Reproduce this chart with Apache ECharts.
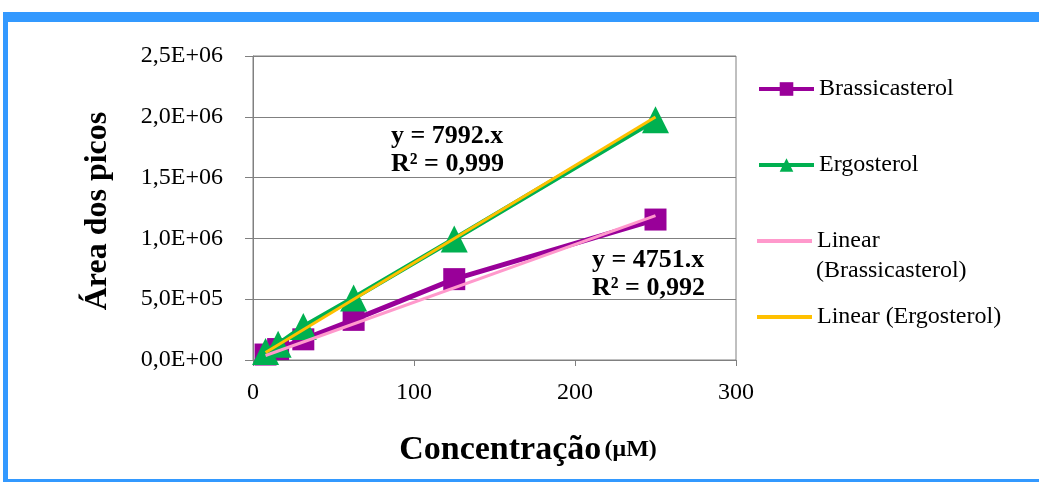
<!DOCTYPE html>
<html>
<head>
<meta charset="utf-8">
<script src="https://cdn.jsdelivr.net/npm/echarts@6/dist/echarts.min.js"></script>
<style>
html,body{margin:0;padding:0;background:#fff;}
#chart{width:1039px;height:482px;}
</style>
</head>
<body>
<div id="chart"></div>
<script>
// ---- data ----
var concentrations = [7.8, 15.6, 31.25, 62.5, 125, 250];
var brassicasterol = [45000, 90000, 170000, 330000, 665000, 1155000];
var ergosterol = [70000, 130000, 275000, 510000, 995000, 1975000];
var trendBrassX = [7.8, 250];
var trendBrassY = [37000, 1188000];
var trendErgoX = [7.8, 250];
var trendErgoY = [62000, 1998000];
var yTickLabels = ['0,0E+00', '5,0E+05', '1,0E+06', '1,5E+06', '2,0E+06', '2,5E+06'];
var xTickLabels = ['0', '100', '200', '300'];
var seriesNames = ['Brassicasterol', 'Ergosterol', 'Linear (Brassicasterol)', 'Linear (Ergosterol)'];
var eqErgo = ['y = 7992.x', 'R\u00b2 = 0,999'];
var eqBrass = ['y = 4751.x', 'R\u00b2 = 0,992'];

function pairs(xs, ys) { return xs.map(function (x, i) { return [x, ys[i]]; }); }

var serif = 'Liberation Serif';
var lineIcon = 'path://M0,0L55,0L55,4L0,4Z';
var legendText = {fontFamily: serif, fontSize: 24, color: '#000'};
var chart = echarts.init(document.getElementById('chart'), null, {renderer: 'canvas'});

var option = {
  backgroundColor: '#ffffff',
  animation: false,
  textStyle: {fontFamily: serif},
  grid: {left: 253, right: 303, top: 56, bottom: 122, show: true, borderColor: '#808080', borderWidth: 1, containLabel: false},
  xAxis: {
    type: 'value', min: 0, max: 300, interval: 100,
    axisLine: {show: true, lineStyle: {color: '#808080', width: 1}},
    axisTick: {show: true, length: 6, lineStyle: {color: '#808080'}},
    splitLine: {show: false},
    axisLabel: {color: '#000', fontFamily: serif, fontSize: 24, margin: 21,
      formatter: function (v) { return xTickLabels[Math.round(v / 100)]; }}
  },
  yAxis: {
    type: 'value', min: 0, max: 2500000, interval: 500000,
    axisLine: {show: true, lineStyle: {color: '#808080', width: 1}},
    axisTick: {show: true, length: 8, lineStyle: {color: '#808080'}},
    splitLine: {show: true, lineStyle: {color: '#808080', width: 1}},
    axisLabel: {color: '#000', fontFamily: serif, fontSize: 24, margin: 30,
      formatter: function (v) { return yTickLabels[Math.round(v / 500000)]; }}
  },
  legend: [
    {left: 757, top: 77, padding: 0, itemWidth: 55, itemHeight: 17, itemGap: 0, data: [seriesNames[0]],
      lineStyle: {width: 4}, textStyle: legendText},
    {left: 757, top: 153, padding: 0, itemWidth: 55, itemHeight: 17, itemGap: 0, data: [seriesNames[1]],
      lineStyle: {width: 4}, textStyle: legendText},
    {left: 757, top: 229, padding: 0, itemWidth: 55, itemHeight: 17, itemGap: 0,
      data: [{name: seriesNames[2], icon: lineIcon}],
      formatter: function () { return 'Linear'; }, textStyle: legendText},
    {left: 757, top: 305, padding: 0, itemWidth: 55, itemHeight: 17, itemGap: 0,
      data: [{name: seriesNames[3], icon: lineIcon}], textStyle: legendText}
  ],
  graphic: [
    {type: 'rect', shape: {x: 3, y: 12, width: 1036, height: 10}, style: {fill: '#3399ff'}, silent: true},
    {type: 'rect', shape: {x: 3, y: 12, width: 5, height: 470}, style: {fill: '#3399ff'}, silent: true},
    {type: 'rect', shape: {x: 3, y: 479, width: 1036, height: 3}, style: {fill: '#3399ff'}, silent: true},
    {type: 'text', left: 816, top: 259, style: {text: '(Brassicasterol)', font: '24px "Liberation Serif"', fill: '#000'}},
    {type: 'text', left: 391, top: 123, style: {text: eqErgo[0], font: 'bold 26px "Liberation Serif"', fill: '#000'}},
    {type: 'text', left: 391, top: 151, style: {text: eqErgo[1], font: 'bold 26px "Liberation Serif"', fill: '#000'}},
    {type: 'text', left: 592, top: 247, style: {text: eqBrass[0], font: 'bold 26px "Liberation Serif"', fill: '#000'}},
    {type: 'text', left: 592, top: 275, style: {text: eqBrass[1], font: 'bold 26px "Liberation Serif"', fill: '#000'}},
    {type: 'text', x: 98, y: 211, rotation: Math.PI / 2,
      style: {text: '\u00c1rea dos picos', font: 'bold 32px "Liberation Serif"', fill: '#000', align: 'center', verticalAlign: 'middle'}},
    {type: 'text', x: 528, y: 450,
      style: {text: '{a|Concentra\u00e7\u00e3o} {b|(\u03bcM)}', align: 'center', verticalAlign: 'middle',
        rich: {a: {font: 'bold 34px "Liberation Serif"', fill: '#000'}, b: {font: 'bold 24px "Liberation Serif"', fill: '#000'}}}}
  ],
  series: [
    {name: seriesNames[0], type: 'line', data: pairs(concentrations, brassicasterol),
      symbol: 'rect', symbolSize: 22, itemStyle: {color: '#990099'},
      lineStyle: {color: '#990099', width: 5}, z: 2},
    {name: seriesNames[1], type: 'line', data: pairs(concentrations, ergosterol),
      symbol: 'triangle', symbolSize: [27, 27], itemStyle: {color: '#00b050'},
      lineStyle: {color: '#00b050', width: 5}, z: 3},
    {name: seriesNames[2], type: 'line', data: pairs(trendBrassX, trendBrassY),
      symbol: 'none', itemStyle: {color: '#ff99cc'}, lineStyle: {color: '#ff99cc', width: 3}, z: 4},
    {name: seriesNames[3], type: 'line', data: pairs(trendErgoX, trendErgoY),
      symbol: 'none', itemStyle: {color: '#ffc000'}, lineStyle: {color: '#ffc000', width: 3}, z: 5}
  ]
};
chart.setOption(option);
</script>
</body>
</html>
